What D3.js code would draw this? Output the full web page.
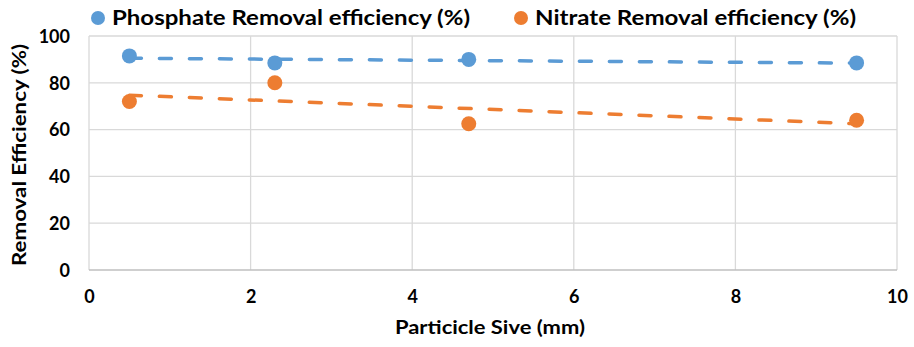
<!DOCTYPE html>
<html><head><meta charset="utf-8">
<script src="https://cdn.jsdelivr.net/npm/d3@7"></script>
<style>body{margin:0;background:#fff;} svg{display:block;}</style>
</head><body>
<svg id="c" width="914" height="347"></svg>
<script>
const particleSize = [0.5, 2.3, 4.7, 9.5];
const phosphate = [91.5, 88.5, 90, 88.5];
const nitrate = [72, 80, 62.5, 64];
const seriesNames = ["Phosphate Removal efficiency (%)", "Nitrate Removal efficiency (%)"];
const xTicks = [0, 2, 4, 6, 8, 10];
const yTicks = [0, 20, 40, 60, 80, 100];
const colors = ["#5B9BD5", "#ED7D31"];

const svg = d3.select("#c");
const font = "Lato, 'Open Sans', sans-serif";
const x = d3.scaleLinear().domain([0, 10]).range([89, 897]);
const y = d3.scaleLinear().domain([0, 100]).range([270, 36]);

// gridlines
svg.append("g").selectAll("line.h").data(yTicks.slice(1)).join("line")
  .attr("x1", x(0)).attr("x2", x(10)).attr("y1", d => y(d)).attr("y2", d => y(d))
  .attr("stroke", "#D9D9D9").attr("stroke-width", 1.3);
svg.append("g").selectAll("line.v").data(xTicks).join("line")
  .attr("x1", d => x(d)).attr("x2", d => x(d)).attr("y1", y(0)).attr("y2", y(100))
  .attr("stroke", "#D9D9D9").attr("stroke-width", 1.3);
svg.append("line").attr("x1", x(0)).attr("x2", x(10)).attr("y1", y(0)).attr("y2", y(0))
  .attr("stroke", "#BFBFBF").attr("stroke-width", 1.3);

// axes labels via d3 axes
const ya = svg.append("g").attr("transform", `translate(${x(0) - 19},0)`)
  .call(d3.axisLeft(y).tickValues(yTicks).tickSize(0).tickPadding(0));
ya.select(".domain").remove();
ya.selectAll("text").attr("font-family", font).attr("font-weight", "bold").attr("font-size", 18).attr("fill", "#000").attr("dy", "0.35em");

const xa = svg.append("g").attr("transform", `translate(0,${y(0) + 20})`)
  .call(d3.axisBottom(x).tickValues(xTicks).tickSize(0).tickPadding(0));
xa.select(".domain").remove();
xa.selectAll("text").attr("font-family", font).attr("font-weight", "bold").attr("font-size", 18).attr("fill", "#000").attr("dy", "0.71em");

svg.append("text").attr("x", 490).attr("y", 334).attr("text-anchor", "middle")
  .attr("font-family", font).attr("font-weight", "bold").attr("font-size", 18)
  .attr("textLength", 190).attr("lengthAdjust", "spacingAndGlyphs")
  .text("Particicle Sive (mm)");
svg.append("text").attr("transform", "translate(26,155) rotate(-90)").attr("text-anchor", "middle")
  .attr("font-family", font).attr("font-weight", "bold").attr("font-size", 18)
  .attr("textLength", 222).attr("lengthAdjust", "spacingAndGlyphs")
  .text("Removal Efficiency (%)");

// trendlines (linear least squares)
function fit(xs, ys) {
  const mx = d3.mean(xs), my = d3.mean(ys);
  let sxy = 0, sxx = 0;
  xs.forEach((v, i) => { sxy += (v - mx) * (ys[i] - my); sxx += (v - mx) * (v - mx); });
  const b = sxy / sxx, a = my - b * mx;
  return v => a + b * v;
}
const series = [phosphate, nitrate];
const x0 = d3.min(particleSize), x1 = d3.max(particleSize);
series.forEach((s, i) => {
  const f = fit(particleSize, s);
  svg.append("line").attr("x1", x(x0)).attr("x2", x(x1)).attr("y1", y(f(x0))).attr("y2", y(f(x1)))
    .attr("stroke", colors[i]).attr("stroke-width", 3.5).attr("stroke-linecap", "round")
    .attr("stroke-dasharray", "12 18");
});
series.forEach((s, i) => {
  svg.append("g").selectAll("circle").data(s).join("circle")
    .attr("cx", (d, j) => x(particleSize[j])).attr("cy", d => y(d)).attr("r", 7.5)
    .attr("fill", colors[i]);
});

// legend
const legendX = [98, 521];
const legendW = [358, 321];
seriesNames.forEach((n, i) => {
  svg.append("circle").attr("cx", legendX[i]).attr("cy", 18).attr("r", 7).attr("fill", colors[i]);
  svg.append("text").attr("x", legendX[i] + 14).attr("y", 25)
    .attr("font-family", font).attr("font-weight", "bold").attr("font-size", 20)
    .attr("textLength", legendW[i]).attr("lengthAdjust", "spacingAndGlyphs").text(n);
});
</script>
</body></html>
